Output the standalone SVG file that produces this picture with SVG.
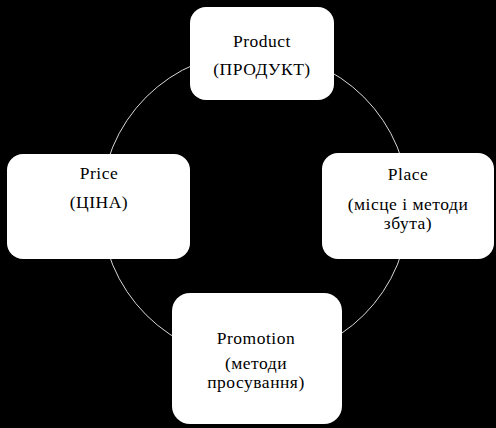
<svg xmlns="http://www.w3.org/2000/svg" width="496" height="428" viewBox="0 0 496 428">
<style>
.box{fill:#fff;stroke:none}
.t{font-family:"Liberation Serif","Times New Roman",serif;font-size:17.5px;letter-spacing:0.5px;fill:#000;text-anchor:middle}
.ring{fill:none;stroke:#d8d8d8;stroke-width:1}
</style>
<rect x="0" y="0" width="496" height="428" fill="#000"/>
<g id="connectors">
<circle class="ring" cx="255" cy="206" r="154"/>
</g>
<g id="product">
<rect class="box" x="190" y="7" width="144" height="93" rx="16"/>
<text class="t" x="262" y="47">Product</text>
<text class="t" x="262" y="75">(ПРОДУКТ)</text>
</g>
<g id="price">
<rect class="box" x="7" y="154" width="183" height="105" rx="16"/>
<text class="t" x="99" y="179">Price</text>
<text class="t" x="99" y="208">(ЦІНА)</text>
</g>
<g id="place">
<rect class="box" x="322" y="153" width="172" height="106" rx="16"/>
<text class="t" x="408" y="180">Place</text>
<text class="t" x="408" y="210">(місце і методи</text>
<text class="t" x="408" y="229">збута)</text>
</g>
<g id="promotion">
<rect class="box" x="172" y="293" width="170" height="131" rx="18"/>
<text class="t" x="256" y="344">Promotion</text>
<text class="t" x="256" y="369">(методи</text>
<text class="t" x="256" y="388">просування)</text>
</g>
</svg>
